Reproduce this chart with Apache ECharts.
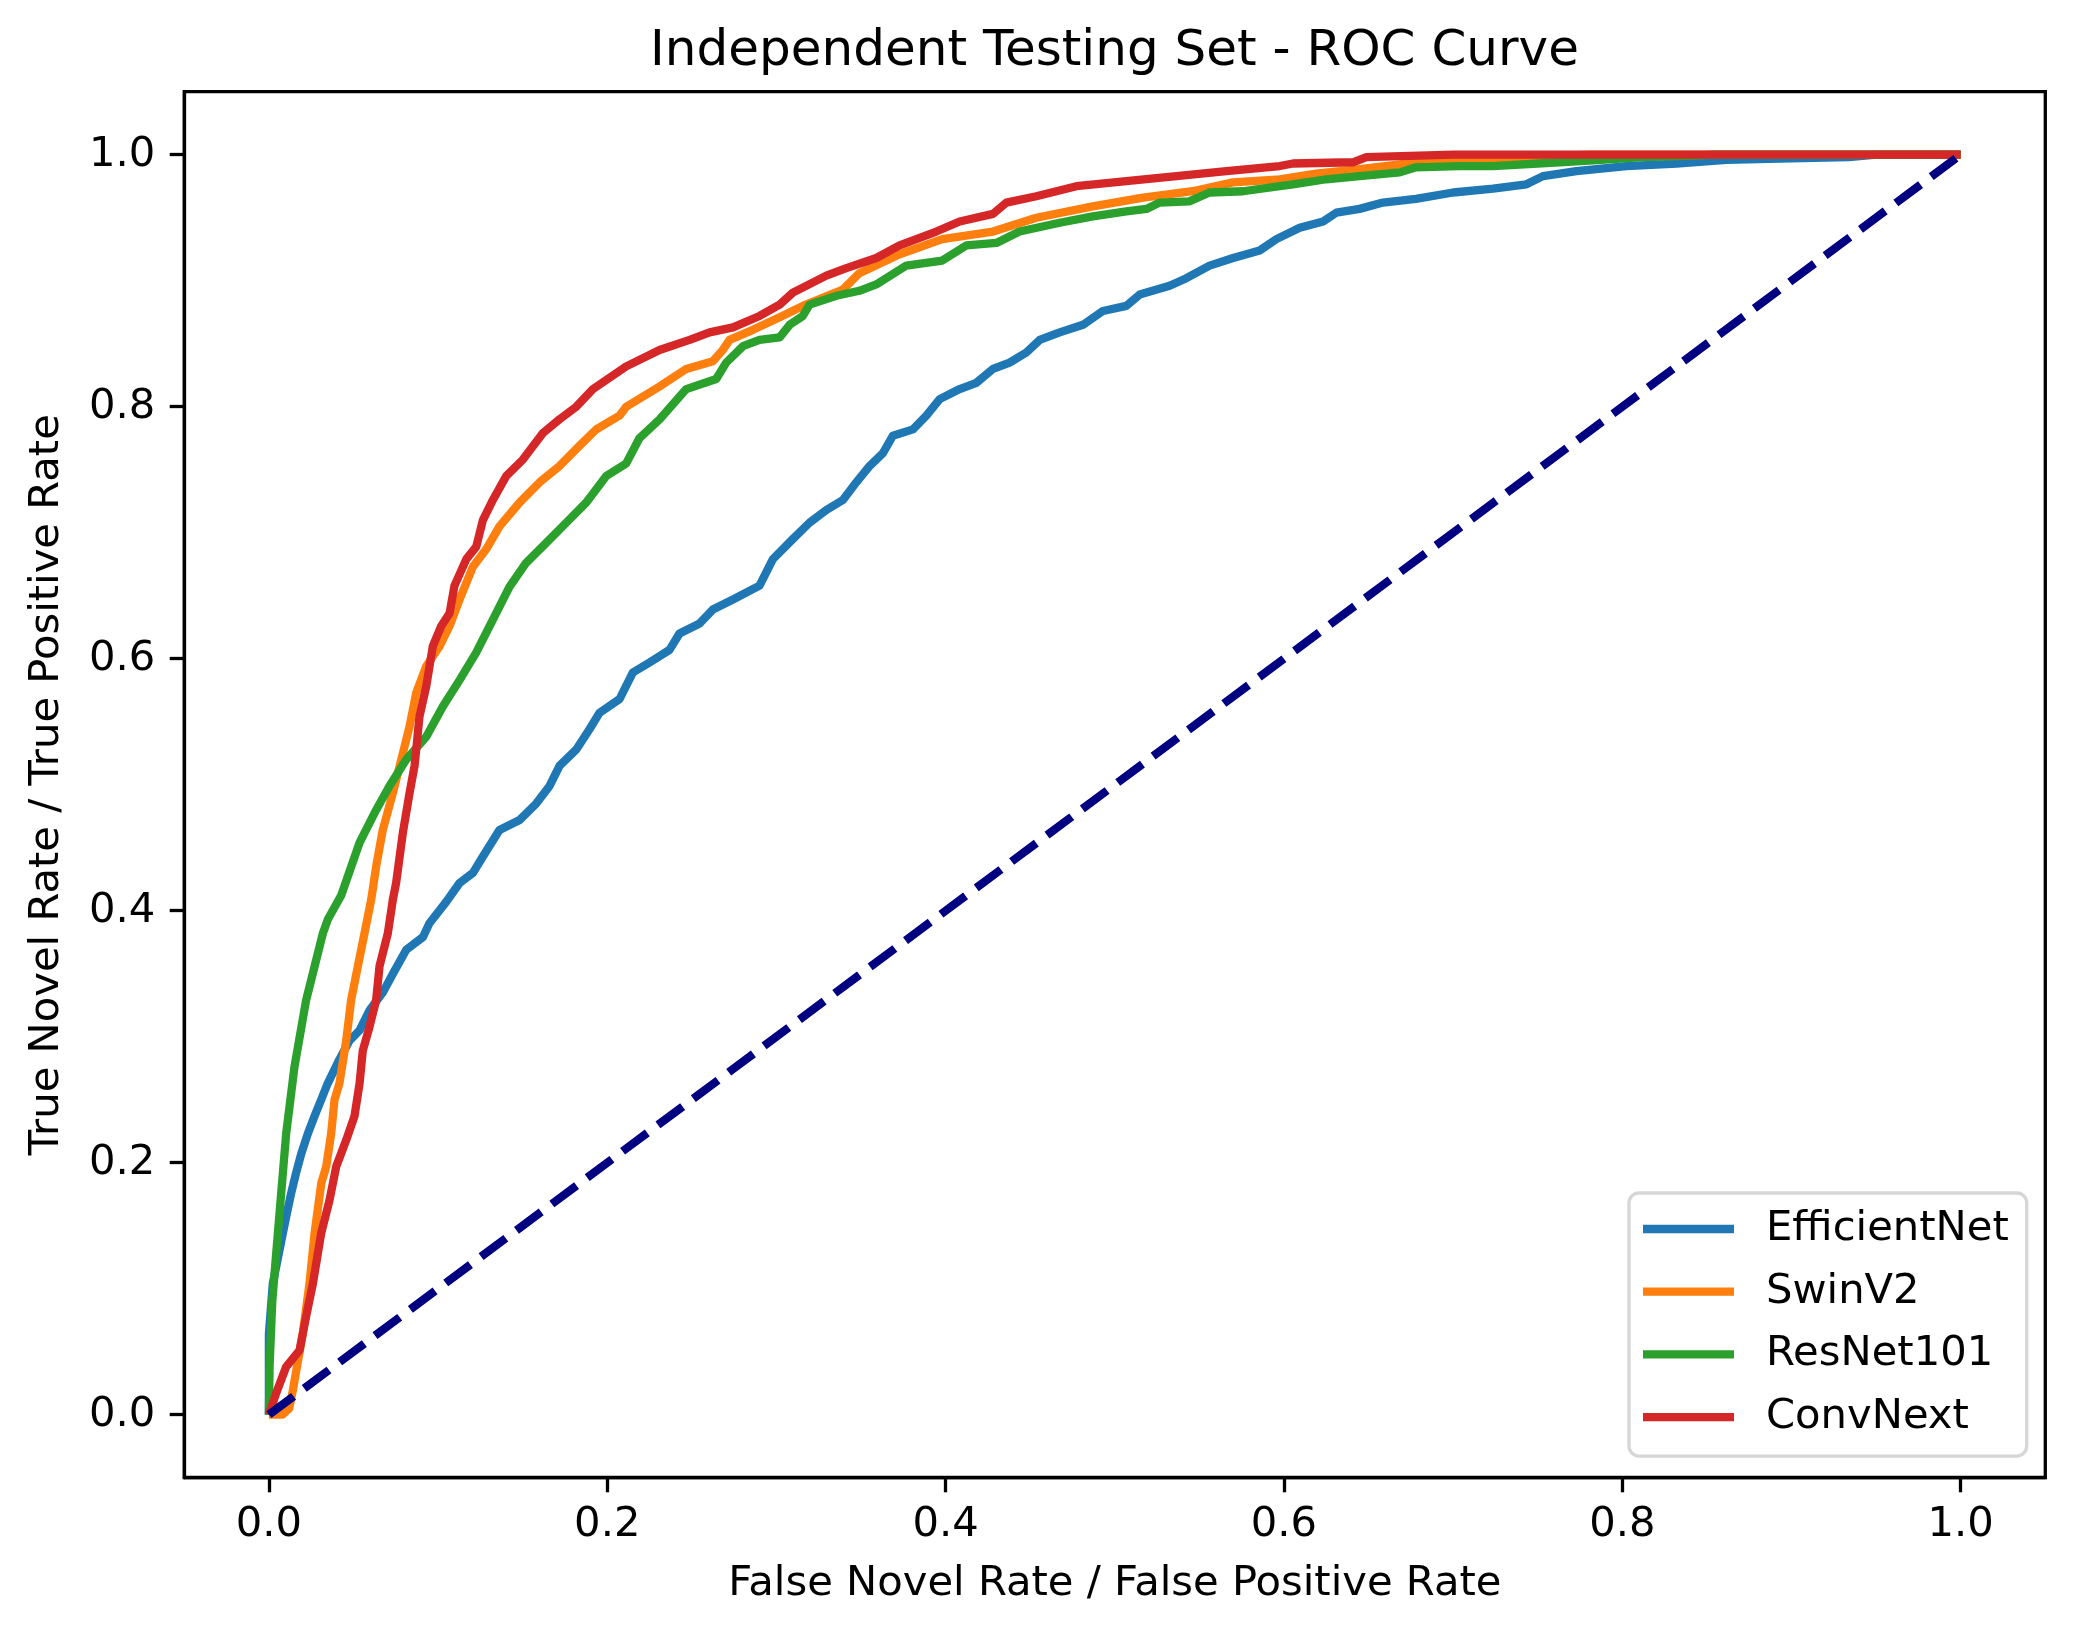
<!DOCTYPE html>
<html>
<head>
<meta charset="utf-8">
<script src="https://cdn.jsdelivr.net/npm/echarts@6/dist/echarts.min.js"></script>
<style>
  html, body { margin: 0; padding: 0; background: #fff; }
  #chart { width: 2074px; height: 1638px; }
</style>
</head>
<body>
<div id="chart"></div>
<script>
// ---- data ----
const seriesNames = ['EfficientNet', 'SwinV2', 'ResNet101', 'ConvNext'];
const xTicks = [0.0, 0.2, 0.4, 0.6, 0.8, 1.0];
const yTicks = [0.0, 0.2, 0.4, 0.6, 0.8, 1.0];

const efficientNet = [[0,0],[0,0.064],[0.0023,0.104],[0.0063,0.131],[0.0102,0.157],[0.0132,0.176],[0.0161,0.192],[0.0191,0.207],[0.023,0.223],[0.027,0.237],[0.0309,0.25],[0.0348,0.263],[0.0417,0.282],[0.0477,0.297],[0.0536,0.305],[0.0595,0.321],[0.0673,0.335],[0.0733,0.350],[0.0812,0.369],[0.091,0.379],[0.0949,0.390],[0.1048,0.407],[0.1127,0.422],[0.1206,0.430],[0.1265,0.443],[0.1363,0.464],[0.1482,0.472],[0.158,0.485],[0.1659,0.499],[0.1718,0.515],[0.1817,0.528],[0.1895,0.544],[0.1954,0.557],[0.2073,0.568],[0.2151,0.589],[0.225,0.597],[0.2368,0.607],[0.2427,0.620],[0.2546,0.628],[0.2624,0.639],[0.2743,0.647],[0.29,0.658],[0.2979,0.679],[0.3097,0.695],[0.3196,0.708],[0.3295,0.718],[0.3393,0.726],[0.3472,0.740],[0.3551,0.753],[0.3629,0.763],[0.3688,0.777],[0.3807,0.782],[0.3886,0.793],[0.3965,0.806],[0.4083,0.814],[0.4182,0.819],[0.428,0.830],[0.4378,0.835],[0.4477,0.843],[0.4556,0.853],[0.4674,0.859],[0.4812,0.865],[0.493,0.876],[0.5068,0.880],[0.5147,0.889],[0.5324,0.896],[0.5423,0.902],[0.556,0.912],[0.5699,0.918],[0.5856,0.924],[0.5955,0.933],[0.6093,0.942],[0.6231,0.947],[0.631,0.954],[0.6447,0.957],[0.6585,0.962],[0.678,0.965],[0.70,0.970],[0.7236,0.973],[0.7433,0.9765],[0.7531,0.983],[0.7728,0.987],[0.8024,0.991],[0.832,0.993],[0.8615,0.996],[0.893,0.997],[0.934,0.998],[0.95,1.0],[1,1]];

const swinV2 = [[0,0],[0.008,0],[0.012,0.005],[0.0141,0.019],[0.020,0.064],[0.024,0.104],[0.027,0.144],[0.031,0.184],[0.0339,0.197],[0.0368,0.223],[0.0388,0.250],[0.0417,0.263],[0.0457,0.297],[0.0486,0.329],[0.0526,0.356],[0.0565,0.382],[0.0605,0.409],[0.0634,0.435],[0.0673,0.464],[0.0732,0.493],[0.0792,0.525],[0.0831,0.546],[0.0871,0.573],[0.093,0.594],[0.1009,0.610],[0.1068,0.626],[0.1127,0.647],[0.1206,0.673],[0.1285,0.687],[0.1363,0.705],[0.1482,0.724],[0.16,0.740],[0.1718,0.753],[0.1836,0.769],[0.1935,0.782],[0.2073,0.793],[0.2112,0.800],[0.2309,0.816],[0.2467,0.830],[0.2624,0.836],[0.2683,0.845],[0.2723,0.853],[0.2861,0.861],[0.3019,0.871],[0.3156,0.880],[0.3393,0.893],[0.349,0.906],[0.3728,0.921],[0.398,0.933],[0.428,0.939],[0.4536,0.950],[0.487,0.959],[0.5167,0.966],[0.546,0.971],[0.5699,0.978],[0.5975,0.9805],[0.619,0.985],[0.6447,0.9885],[0.6724,0.993],[0.694,0.9955],[0.7236,0.997],[0.763,0.999],[0.78,1.0],[1,1]];

const resNet101 = [[0,0],[0.0004,0.038],[0.002,0.09],[0.0053,0.144],[0.0102,0.223],[0.0151,0.276],[0.022,0.329],[0.0319,0.382],[0.0348,0.393],[0.0427,0.412],[0.0536,0.454],[0.0634,0.480],[0.0713,0.499],[0.0812,0.520],[0.093,0.538],[0.1028,0.562],[0.1127,0.583],[0.1226,0.605],[0.1324,0.631],[0.1422,0.657],[0.152,0.676],[0.164,0.692],[0.1758,0.708],[0.1876,0.724],[0.1994,0.745],[0.2112,0.755],[0.219,0.775],[0.231,0.790],[0.2467,0.814],[0.2644,0.822],[0.2703,0.835],[0.2802,0.848],[0.29,0.853],[0.3019,0.855],[0.3078,0.865],[0.3156,0.872],[0.3196,0.881],[0.3354,0.888],[0.349,0.892],[0.359,0.897],[0.3768,0.912],[0.398,0.916],[0.4122,0.928],[0.43,0.930],[0.4437,0.939],[0.4674,0.946],[0.487,0.951],[0.5068,0.955],[0.5187,0.957],[0.5265,0.962],[0.544,0.963],[0.556,0.970],[0.5758,0.971],[0.5975,0.975],[0.6053,0.9765],[0.625,0.9805],[0.6447,0.983],[0.6684,0.986],[0.678,0.990],[0.7039,0.991],[0.7236,0.991],[0.763,0.994],[0.7827,0.9955],[0.8122,0.998],[0.84,0.999],[0.855,1.0],[1,1]];

const convNext = [[0,0],[0.0043,0.017],[0.0102,0.038],[0.0181,0.051],[0.022,0.078],[0.026,0.104],[0.0309,0.144],[0.0358,0.170],[0.0398,0.197],[0.0457,0.218],[0.0506,0.237],[0.0536,0.263],[0.0555,0.289],[0.0595,0.308],[0.0634,0.329],[0.0654,0.356],[0.0703,0.382],[0.0733,0.409],[0.0752,0.422],[0.0792,0.462],[0.0831,0.493],[0.0861,0.515],[0.0871,0.528],[0.089,0.554],[0.093,0.578],[0.0969,0.610],[0.1019,0.626],[0.1068,0.636],[0.1097,0.658],[0.1167,0.679],[0.1226,0.689],[0.1265,0.710],[0.1324,0.726],[0.1403,0.745],[0.1501,0.758],[0.1619,0.779],[0.1718,0.790],[0.1817,0.800],[0.1915,0.814],[0.2112,0.832],[0.2309,0.845],[0.2487,0.853],[0.2605,0.859],[0.2743,0.863],[0.29,0.872],[0.3019,0.881],[0.3097,0.8905],[0.3295,0.904],[0.3413,0.910],[0.359,0.918],[0.3728,0.928],[0.3945,0.939],[0.4083,0.947],[0.428,0.953],[0.4359,0.962],[0.4536,0.967],[0.4773,0.975],[0.5068,0.979],[0.5364,0.983],[0.566,0.987],[0.5975,0.991],[0.6053,0.993],[0.6408,0.994],[0.6487,0.998],[0.70,1.0],[1,1]];

const chanceLine = [[0,0],[1,1]];

// ---- styling ----
const colors = ['#1f77b4', '#ff7f0e', '#2ca02c', '#d62728'];
const FONT = 'DejaVu Sans';
const LW = 8.3;

const chart = echarts.init(document.getElementById('chart'), null, { renderer: 'canvas' });

const curveData = [efficientNet, swinV2, resNet101, convNext];
const series = seriesNames.map((name, i) => ({
  name: name,
  type: 'line',
  data: curveData[i],
  showSymbol: false,
  symbol: 'none',
  color: colors[i],
  lineStyle: { width: LW, color: colors[i], cap: 'butt', join: 'round' },
  z: 2 + i
}));
series.push({
  name: 'chance',
  type: 'line',
  data: chanceLine,
  showSymbol: false,
  symbol: 'none',
  color: '#000080',
  lineStyle: { width: LW, color: '#000080', type: [30.8, 13.3], cap: 'butt' },
  z: 10
});

const axisCommon = {
  type: 'value',
  min: -0.05,
  max: 1.05,
  splitLine: { show: false },
  axisLine: { show: true, onZero: false, lineStyle: { color: '#000', width: 3.3 } },
  axisTick: { show: true, inside: false, length: 14.6, lineStyle: { color: '#000', width: 3.3 } },
  axisLabel: {
    show: true,
    color: '#000',
    fontFamily: FONT,
    fontSize: 41.7,
    formatter: v => Number(v).toFixed(1)
  },
  nameTextStyle: { color: '#000', fontFamily: FONT, fontSize: 41.7 },
  nameLocation: 'middle'
};

const option = {
  animation: false,
  backgroundColor: '#fff',
  title: {
    text: 'Independent Testing Set - ROC Curve',
    left: 1114.5,
    top: 27,
    padding: 0,
    textAlign: 'center',
    textStyle: { color: '#000', fontFamily: FONT, fontSize: 50, fontWeight: 'normal' }
  },
  grid: {
    left: 184.3,
    top: 91.7,
    width: 1861,
    height: 1386,
    show: true,
    borderColor: '#000',
    borderWidth: 3.3,
    backgroundColor: '#fff',
    containLabel: false
  },
  legend: {
    data: seriesNames,
    orient: 'vertical',
    left: 1629,
    top: 1193,
    icon: 'rect',
    itemWidth: 91,
    itemHeight: 8.3,
    itemGap: 12.7,
    padding: [11, 18, 14, 14],
    backgroundColor: '#fff',
    borderColor: '#d6d6d6',
    borderWidth: 3.3,
    borderRadius: 10,
    textStyle: {
      color: '#000',
      fontFamily: FONT,
      fontSize: 41.7,
      lineHeight: 50,
      padding: [0, 0, 0, 27]
    }
  },
  xAxis: Object.assign({}, axisCommon, {
    name: 'False Novel Rate / False Positive Rate',
    nameGap: 85,
    axisTick: Object.assign({}, axisCommon.axisTick, { customValues: xTicks }),
    axisLabel: Object.assign({}, axisCommon.axisLabel, { customValues: xTicks, margin: 26 })
  }),
  yAxis: Object.assign({}, axisCommon, {
    name: 'True Novel Rate / True Positive Rate',
    nameGap: 116,
    nameRotate: 90,
    axisTick: Object.assign({}, axisCommon.axisTick, { customValues: yTicks }),
    axisLabel: Object.assign({}, axisCommon.axisLabel, { customValues: yTicks, margin: 29 })
  }),
  series: series
};

chart.setOption(option);
</script>
</body>
</html>
